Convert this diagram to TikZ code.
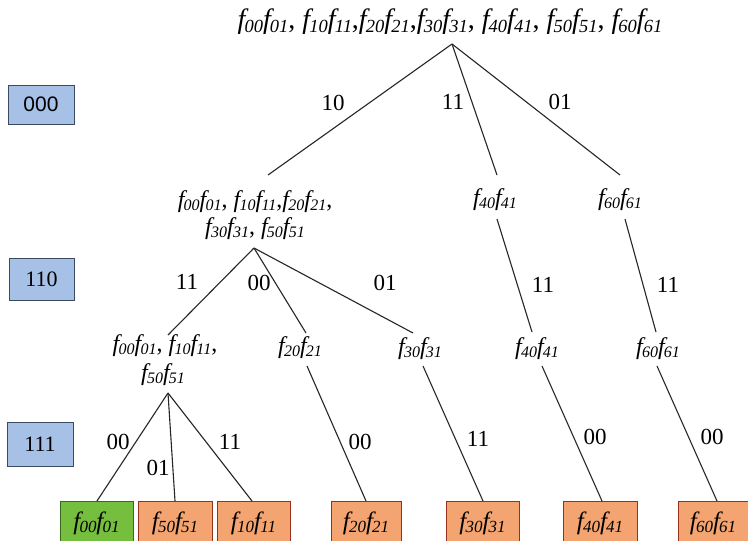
\documentclass[tikz,border=0pt]{standalone}
\usepackage{fontspec}
\setmainfont{Liberation Serif}[ItalicFont={Liberation Serif Italic}]
\newfontfamily\tnr{Liberation Serif}
\newfontfamily\sansf{Liberation Sans}
\def\dsz{16}
\newcommand\ff[1]{{\tnr\itshape f\kern-0.03em\raisebox{-0.12em}{\fontsize{\dsz}{\dsz}\selectfont #1}}}
\definecolor{bluefill}{RGB}{166,192,230}
\definecolor{blueline}{RGB}{60,75,100}
\definecolor{orangefill}{RGB}{244,164,112}
\definecolor{orangeline}{RGB}{150,50,30}
\definecolor{greenfill}{RGB}{118,190,62}
\definecolor{greenline}{RGB}{55,105,30}
\tikzset{
  edge/.style={line width=1.1pt, black!85},
  lbl/.style={font=\tnr\fontsize{23}{23}\selectfont, inner sep=0pt},
  ftext/.style={font={\tnr\fontsize{24}{27}\selectfont\def\dsz{16}}, inner sep=0pt, align=center},
  leaftext/.style={font={\tnr\fontsize{25}{27}\selectfont\def\dsz{17}}, inner sep=0pt},
  levelbox/.style={draw=blueline, fill=bluefill, line width=0.9pt},
  leafbox/.style={draw=orangeline, fill=orangefill, line width=0.9pt},
  goodleaf/.style={draw=greenline, fill=greenfill, line width=0.9pt}
}
\begin{document}
\begin{tikzpicture}[x=1pt,y=-1pt]
\clip (0,0) rectangle (748,541);
\fill[white] (0,0) rectangle (748,541);

% level boxes
\draw[levelbox] (8,85) rectangle (74,124);
\node[font=\sansf\fontsize{21}{21}\selectfont, inner sep=0pt] (b000) at (41,104.5) {000};
\draw[levelbox] (9,258) rectangle (74,300);
\node[font=\tnr\fontsize{22}{22}\selectfont, inner sep=0pt] (b110) at (41.5,279) {110};
\draw[levelbox] (7,422) rectangle (73,466);
\node[font=\tnr\fontsize{22}{22}\selectfont, inner sep=0pt] (b111) at (40,444) {111};

% root
\node[font={\tnr\fontsize{28}{30}\selectfont\def\dsz{18.5}}, inner sep=0pt] (root) at (450,22)
  {\ff{00}\ff{01}, \ff{10}\ff{11},\ff{20}\ff{21},\ff{30}\ff{31}, \ff{40}\ff{41}, \ff{50}\ff{51}, \ff{60}\ff{61}};
\coordinate (r0) at (452,44);
\coordinate (a1) at (268,175);
\coordinate (b1) at (497,175);
\coordinate (c1) at (620,175);
\draw[edge] (r0) -- (a1);
\draw[edge] (r0) -- (b1);
\draw[edge] (r0) -- (c1);
\node[lbl] (l10) at (333,103) {10};
\node[lbl] (l11a) at (453,102) {11};
\node[lbl] (l01a) at (560,102) {01};

% level 1
\node[ftext] (A1) at (255,202) {\ff{00}\ff{01}, \ff{10}\ff{11},\ff{20}\ff{21},};
\node[ftext] (A2) at (255,229) {\ff{30}\ff{31}, \ff{50}\ff{51}};
\node[ftext] (B) at (495,200) {\ff{40}\ff{41}};
\node[ftext] (C) at (620,200) {\ff{60}\ff{61}};
\coordinate (a0) at (254,248);
\coordinate (d1) at (168,335);
\coordinate (e1) at (306,333);
\coordinate (f1) at (413,333);
\draw[edge] (a0) -- (d1);
\draw[edge] (a0) -- (e1);
\draw[edge] (a0) -- (f1);
\coordinate (b0) at (497,219);
\coordinate (g1) at (532,332);
\coordinate (c0) at (625,219);
\coordinate (h1) at (656,332);
\draw[edge] (b0) -- (g1);
\draw[edge] (c0) -- (h1);
\node[lbl] (l11b) at (187,282) {11};
\node[lbl] (l00b) at (259,283) {00};
\node[lbl] (l01b) at (385,283) {01};
\node[lbl] (l11c) at (543,285) {11};
\node[lbl] (l11d) at (668,285) {11};

% level 2
\node[ftext] (D1) at (165,346) {\ff{00}\ff{01}, \ff{10}\ff{11},};
\node[ftext] (D2) at (163,375) {\ff{50}\ff{51}};
\node[ftext] (E) at (300,348) {\ff{20}\ff{21}};
\node[ftext] (F) at (420,349) {\ff{30}\ff{31}};
\node[ftext] (G) at (537,349) {\ff{40}\ff{41}};
\node[ftext] (H) at (658,349) {\ff{60}\ff{61}};
\coordinate (d0) at (168,393);
\coordinate (e0) at (307,366);
\coordinate (f0) at (423,366);
\coordinate (g0) at (542,366);
\coordinate (h0) at (657,366);

% leaves
\draw[goodleaf] (60,501) rectangle (133,548);
\node[leaftext] (k1) at (96.5,523) {\ff{00}\ff{01}};
\draw[leafbox] (138,501) rectangle (212,548);
\node[leaftext] (k2) at (175,523) {\ff{50}\ff{51}};
\draw[leafbox] (217,501) rectangle (290,548);
\node[leaftext] (k3) at (253.5,523) {\ff{10}\ff{11}};
\draw[leafbox] (331,501) rectangle (401,548);
\node[leaftext] (k4) at (366,523) {\ff{20}\ff{21}};
\draw[leafbox] (446,501) rectangle (519,548);
\node[leaftext] (k5) at (482.5,523) {\ff{30}\ff{31}};
\draw[leafbox] (563,501) rectangle (637,548);
\node[leaftext] (k6) at (600,523) {\ff{40}\ff{41}};
\draw[leafbox] (678,501) rectangle (750,548);
\node[leaftext] (k7) at (713,523) {\ff{60}\ff{61}};

\coordinate (k1t) at (97,501);
\coordinate (k2t) at (175,501);
\coordinate (k3t) at (252,501);
\coordinate (k4t) at (366,501);
\coordinate (k5t) at (483,501);
\coordinate (k6t) at (602,501);
\coordinate (k7t) at (717,501);
\draw[edge] (d0) -- (k1t);
\draw[edge] (d0) -- (k2t);
\draw[edge] (d0) -- (k3t);
\draw[edge] (e0) -- (k4t);
\draw[edge] (f0) -- (k5t);
\draw[edge] (g0) -- (k6t);
\draw[edge] (h0) -- (k7t);
\node[lbl] (l00c) at (118,442) {00};
\node[lbl] (l01c) at (158,468) {01};
\node[lbl] (l11e) at (230,442) {11};
\node[lbl] (l00d) at (360,442) {00};
\node[lbl] (l11f) at (478,439) {11};
\node[lbl] (l00e) at (595,437) {00};
\node[lbl] (l00f) at (712,437) {00};
\end{tikzpicture}
\end{document}
